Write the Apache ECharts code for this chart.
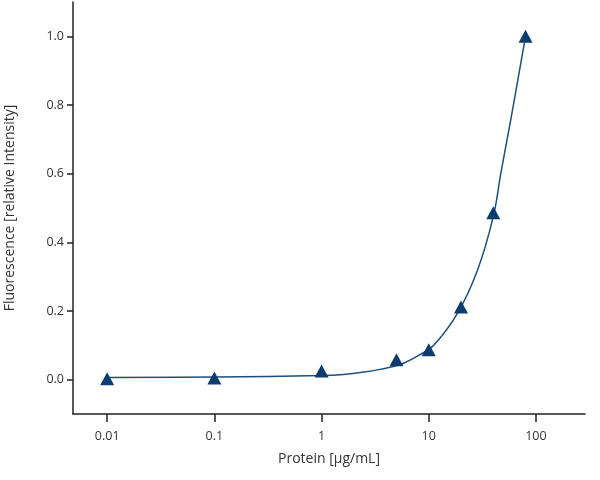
<!DOCTYPE html>
<html>
<head>
<meta charset="utf-8">
<script src="https://cdn.jsdelivr.net/npm/echarts@6/dist/echarts.min.js"></script>
<style>
  html, body { margin: 0; padding: 0; background: #fff; }
  #chart { width: 600px; height: 480px; }
</style>
</head>
<body>
<div id="chart"></div>
<script>
// measured points
var concentrations = [0.01, 0.1, 1, 5, 10, 20, 40, 80];
var fluorescence = [0.003, 0.005, 0.025, 0.058, 0.087, 0.212, 0.486, 1.0];

// fitted curve
var fitX = [0.01, 0.1, 1, 1.6, 2.5, 3.5, 5.5, 8, 11.2, 18.5, 28.5, 40, 47, 58, 80];
var fitY = [0.006, 0.008, 0.012, 0.015, 0.022, 0.03, 0.045, 0.07, 0.101, 0.193, 0.319, 0.475, 0.6, 0.754, 1.0];

var xTicks = [0.01, 0.1, 1, 10, 100];
var xTickLabels = ['0.01', '0.1', '1', '10', '100'];
var yTicks = [0, 0.2, 0.4, 0.6, 0.8, 1.0];
var yTickLabels = ['0.0', '0.2', '0.4', '0.6', '0.8', '1.0'];

function pairs(xs, ys) {
    var out = [];
    for (var i = 0; i < xs.length; i++) out.push([xs[i], ys[i]]);
    return out;
}

function data_fluorescence() {
    var myChart = echarts.init(document.getElementById('chart'));
    var font = 'Open Sans';
    var option = {
        animation: false,
        textStyle: { fontFamily: font },
        grid: { left: 73, right: 15, top: 2, bottom: 66, containLabel: false, outerBoundsMode: 'none' },
        xAxis: {
            type: 'log',
            min: 0.0048,
            max: 287,
            name: 'Protein [µg/mL]',
            nameLocation: 'middle',
            nameGap: 38,
            nameTextStyle: { fontSize: 14, color: '#333', fontFamily: font },
            axisLine: { onZero: false, lineStyle: { color: '#222', width: 1.5 } },
            axisTick: { customValues: xTicks, length: 8, lineStyle: { color: '#222', width: 1.5 } },
            axisLabel: {
                customValues: xTicks,
                margin: 16,
                fontSize: 12.5,
                color: '#333',
                formatter: function (v) {
                    for (var i = 0; i < xTicks.length; i++) {
                        if (Math.abs(Math.log10(v) - Math.log10(xTicks[i])) < 1e-6) return xTickLabels[i];
                    }
                    return '';
                }
            },
            splitLine: { show: false }
        },
        yAxis: {
            type: 'value',
            min: -0.1,
            max: 1.1,
            name: 'Fluorescence [relative Intensity]',
            nameLocation: 'middle',
            nameGap: 56,
            nameTextStyle: { fontSize: 14, color: '#333', fontFamily: font },
            axisLine: { show: true, onZero: false, lineStyle: { color: '#222', width: 1.5 } },
            axisTick: { show: true, customValues: yTicks, length: 6, lineStyle: { color: '#222', width: 1.5 } },
            axisLabel: {
                customValues: yTicks,
                margin: 9,
                fontSize: 12.5,
                color: '#333',
                formatter: function (v) {
                    for (var i = 0; i < yTicks.length; i++) {
                        if (Math.abs(v - yTicks[i]) < 1e-6) return yTickLabels[i];
                    }
                    return '';
                }
            },
            splitLine: { show: false }
        },
        series: [{
            name: 'fit',
            type: 'line',
            smooth: 0.4,
            showSymbol: false,
            lineStyle: { color: '#1d4f7d', width: 1.5 },
            data: pairs(fitX, fitY),
            z: 2
        }, {
            name: 'data',
            type: 'scatter',
            symbol: 'triangle',
            symbolSize: [14, 13],
            itemStyle: { color: '#0b3c6d', opacity: 1 },
            data: pairs(concentrations, fluorescence),
            z: 3
        }]
    };
    myChart.setOption(option);
}

data_fluorescence();
</script>
</body>
</html>
